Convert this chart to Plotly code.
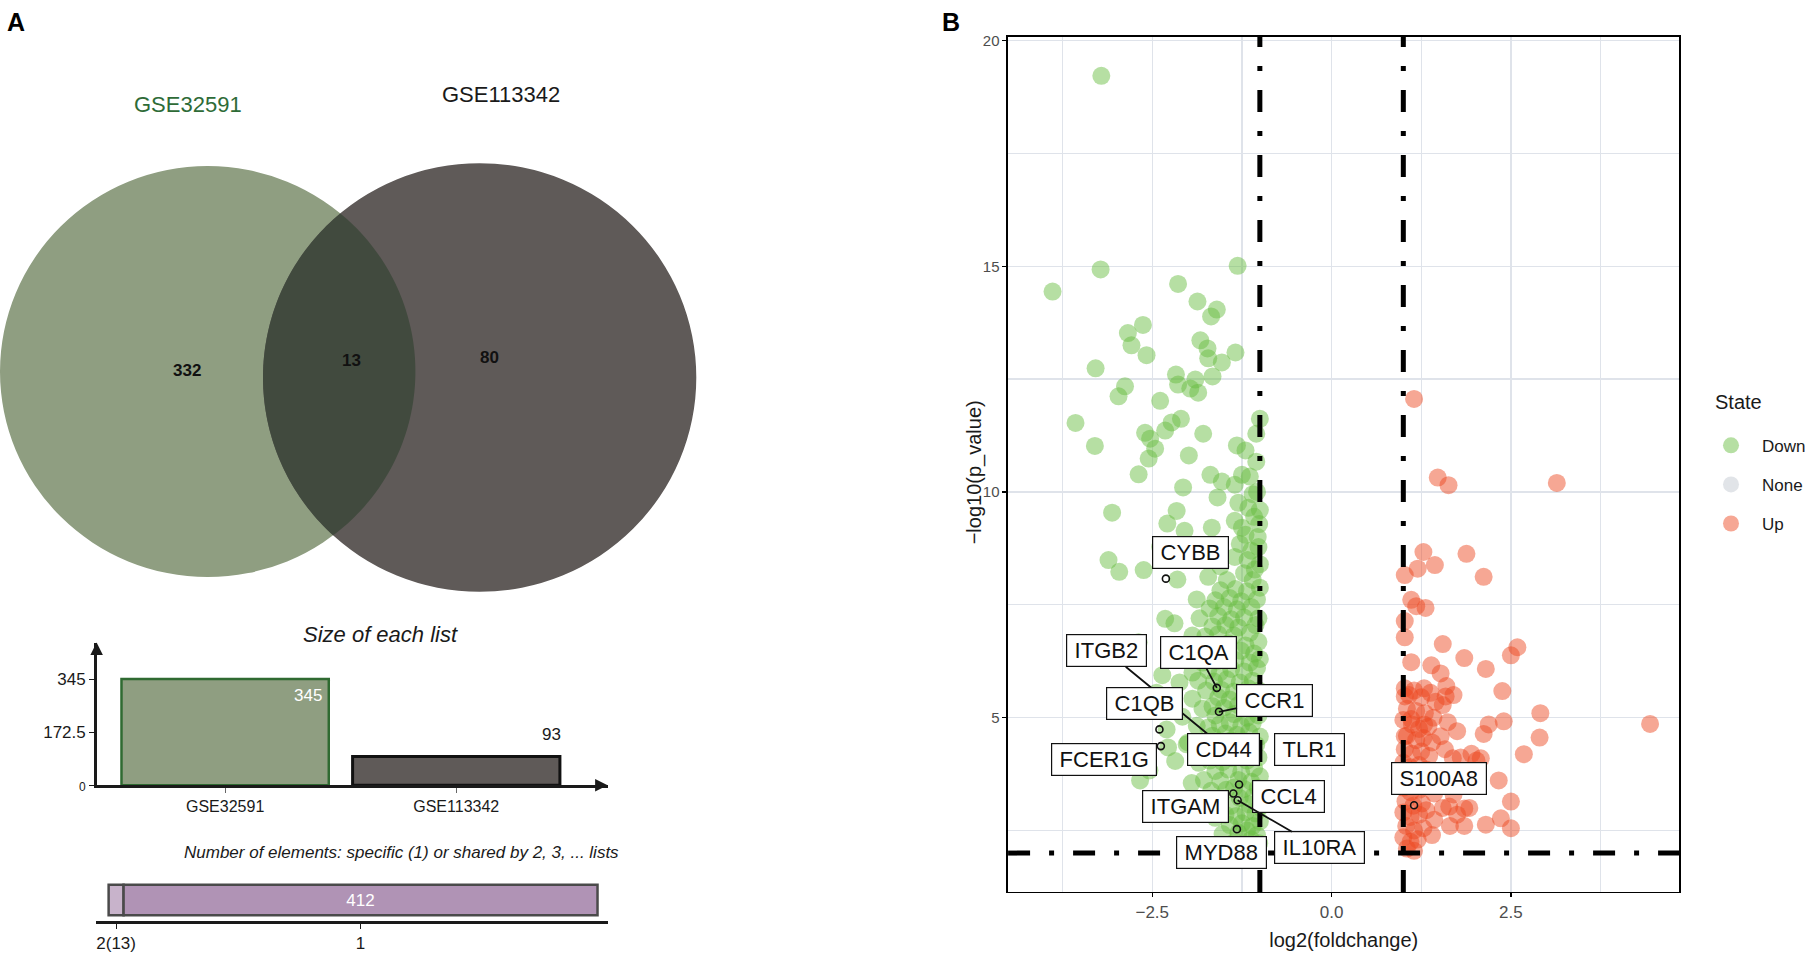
import numpy as np
import plotly.graph_objects as go

# ---------------- DATA ----------------
venn_sets = ["GSE32591", "GSE113342"]
venn_only = [332, 80]
venn_shared = 13
list_sizes = [345, 93]
size_ticks = [0, 172.5, 345]
share_labels = ["2(13)", "1"]
share_counts = [13, 412]
share_text = ["", "412"]

fc_cut = 1.0
p_cut = 2.0
vx_ticks = [-2.5, 0.0, 2.5]
vx_ticktext = ["\u22122.5", "0.0", "2.5"]
vy_ticks = [5, 10, 15, 20]

down_pts = [
    (-3.21, 19.22),
    (-3.22, 14.93), (-3.89, 14.44), (-1.31, 15.01), (-2.14, 14.61), (-1.87, 14.22), (-1.60, 14.04),
    (-1.68, 13.89), (-2.63, 13.70), (-2.84, 13.52), (-2.79, 13.25), (-2.58, 13.03), (-1.83, 13.36),
    (-1.73, 13.18), (-1.72, 12.96), (-1.53, 12.87), (-1.34, 13.09), (-3.29, 12.74), (-1.66, 12.56),
    (-2.17, 12.60), (-2.14, 12.38), (-1.90, 12.49), (-1.97, 12.29), (-1.86, 12.20), (-2.88, 12.34),
    (-2.97, 12.12), (-2.39, 12.02), (-3.57, 11.53), (-3.30, 11.02), (-2.60, 11.31), (-2.53, 11.18),
    (-2.46, 10.96), (-2.32, 11.36), (-2.23, 11.54), (-2.10, 11.62), (-1.79, 11.29), (-1.99, 10.81),
    (-2.55, 10.74), (-2.69, 10.39), (-2.07, 10.10), (-1.69, 10.38), (-1.53, 10.23), (-1.32, 11.03),
    (-1.20, 10.92), (-1.00, 11.62), (-1.05, 11.29), (-1.05, 10.67), (-1.25, 10.38), (-1.14, 10.34),
    (-1.35, 10.16), (-1.59, 9.88), (-1.30, 9.76), (-1.16, 9.65), (-1.35, 9.36), (-1.25, 9.21),
    (-1.01, 9.29), (-3.06, 9.54), (-2.16, 9.58), (-2.29, 9.30), (-2.05, 9.14), (-1.67, 9.21),
    (-3.11, 8.49), (-2.96, 8.23), (-2.62, 8.27), (-2.39, 8.78), (-1.35, 8.56), (-1.17, 8.49),
    (-1.07, 8.28), (-1.02, 8.78), (-1.72, 8.12), (-2.15, 8.06), (-1.46, 8.05),
    (-1.04, 10.00), (-1.10, 9.95), (-1.00, 9.60), (-1.08, 9.45), (-1.20, 9.05), (-1.03, 9.00),
    (-1.12, 8.70), (-1.28, 8.85), (-1.00, 8.40), (-1.22, 8.20), (-1.55, 8.35), (-1.10, 8.05),
    (-2.32, 7.19), (-2.19, 7.09), (-2.69, 6.67), (-2.78, 6.42), (-2.36, 5.94), (-2.30, 4.74),
    (-2.28, 4.34), (-2.67, 3.61), (-2.54, 3.83), (-2.02, 4.41), (-2.44, 5.55), (-2.18, 4.04),
    (-1.89, 3.14),
    (-1.22, 2.08), (-1.05, 2.12), (-1.35, 2.25), (-1.12, 2.30), (-1.01, 2.22),
    (-1.52, 2.42), (-1.30, 2.45), (-1.18, 2.50), (-1.04, 2.40), (-1.42, 2.62), (-1.25, 2.66),
    (-1.10, 2.60), (-1.00, 2.70),
    (-1.62, 2.78), (-1.48, 2.85), (-1.33, 2.82), (-1.20, 2.90), (-1.06, 2.88), (-1.74, 3.00),
    (-1.40, 3.05), (-1.15, 3.08), (-1.00, 3.02),
    (-1.86, 3.20), (-1.58, 3.18), (-1.28, 3.22), (-1.09, 3.25), (-1.68, 3.38), (-1.47, 3.40),
    (-1.36, 3.45), (-1.22, 3.42), (-1.03, 3.44),
    (-1.95, 3.55), (-1.78, 3.62), (-1.55, 3.60), (-1.30, 3.62), (-1.12, 3.58), (-1.00, 3.70),
    (-1.62, 3.82), (-1.44, 3.85), (-1.26, 3.80), (-1.08, 3.88),
    (-1.85, 4.00), (-1.70, 4.05), (-1.52, 4.02), (-1.38, 4.10), (-1.18, 4.05), (-1.02, 4.12),
    (-1.60, 4.25), (-1.30, 4.28), (-1.12, 4.22),
    (-2.00, 4.45), (-1.78, 4.38), (-1.55, 4.42), (-1.40, 4.50), (-1.22, 4.45), (-1.05, 4.40),
    (-1.66, 4.60), (-1.48, 4.65), (-1.32, 4.62), (-1.15, 4.68), (-1.00, 4.58),
    (-1.88, 4.82), (-1.72, 4.78), (-1.56, 4.85), (-1.42, 4.90), (-1.26, 4.82), (-1.10, 4.88),
    (-2.08, 5.02), (-1.62, 5.05), (-1.36, 5.08), (-1.18, 5.00), (-1.02, 5.05),
    (-1.80, 5.20), (-1.66, 5.25), (-1.50, 5.22), (-1.30, 5.28), (-1.12, 5.20), (-1.00, 5.30),
    (-1.94, 5.42), (-1.58, 5.45), (-1.42, 5.40), (-1.22, 5.48), (-1.06, 5.45),
    (-1.75, 5.60), (-1.54, 5.62), (-1.36, 5.58), (-1.16, 5.65), (-1.01, 5.60), (-2.12, 5.78),
    (-1.86, 5.82), (-1.64, 5.80), (-1.46, 5.85), (-1.28, 5.78), (-1.10, 5.82),
    (-1.94, 6.00), (-1.72, 6.05), (-1.56, 6.00), (-1.40, 6.08), (-1.22, 6.02), (-1.04, 6.10),
    (-1.80, 6.22), (-1.60, 6.25), (-1.34, 6.28), (-1.14, 6.22), (-1.00, 6.30),
    (-2.02, 6.42), (-1.84, 6.40), (-1.66, 6.45), (-1.50, 6.40), (-1.26, 6.48), (-1.08, 6.42),
    (-1.72, 6.62), (-1.44, 6.65), (-1.20, 6.60), (-1.02, 6.68),
    (-1.94, 6.82), (-1.76, 6.80), (-1.58, 6.85), (-1.36, 6.82), (-1.14, 6.88), (-1.66, 7.02),
    (-1.48, 7.05), (-1.30, 7.00), (-1.06, 7.05),
    (-1.84, 7.20), (-1.58, 7.25), (-1.40, 7.18), (-1.22, 7.22), (-1.02, 7.20), (-1.70, 7.42),
    (-1.50, 7.45), (-1.32, 7.40), (-1.12, 7.45),
    (-1.88, 7.62), (-1.62, 7.60), (-1.42, 7.65), (-1.26, 7.58), (-1.04, 7.62), (-1.55, 7.82),
    (-1.34, 7.85), (-1.18, 7.80), (-1.00, 7.88),
]
up_pts = [
    (1.15, 12.06), (1.48, 10.32), (1.63, 10.15), (3.14, 10.20), (1.28, 8.67), (1.20, 8.30),
    (1.44, 8.38), (1.02, 8.16), (1.88, 8.63), (2.12, 8.12), (1.11, 7.61), (1.18, 7.47),
    (1.31, 7.43), (1.02, 7.14), (1.02, 6.78), (1.11, 6.23), (1.55, 6.63), (1.85, 6.32),
    (2.15, 6.08), (2.50, 6.38), (2.59, 6.56), (1.39, 6.16), (1.52, 5.98), (2.38, 5.59),
    (1.59, 5.47), (1.29, 5.65), (1.02, 5.47), (1.55, 5.28), (2.91, 5.10), (2.40, 4.92),
    (2.19, 4.85), (2.12, 4.64), (2.90, 4.56), (4.44, 4.86), (2.68, 4.19), (1.80, 4.12),
    (1.69, 4.10), (2.08, 4.10), (1.52, 4.59), (1.29, 4.85), (1.11, 4.97), (1.02, 4.59),
    (2.33, 3.61), (2.50, 3.14), (1.85, 2.99), (1.64, 3.03), (2.15, 2.63), (2.36, 2.77),
    (2.50, 2.55), (1.43, 2.74), (1.43, 3.32),
    (1.02, 5.65), (1.08, 5.50), (1.15, 5.60), (1.25, 5.45), (1.38, 5.55), (1.45, 5.35),
    (1.05, 5.20), (1.18, 5.15), (1.30, 5.10), (1.42, 5.00), (1.00, 4.95), (1.12, 4.85),
    (1.22, 4.75), (1.35, 4.80), (1.05, 4.60), (1.18, 4.50), (1.28, 4.55), (1.40, 4.45),
    (1.02, 4.30), (1.12, 4.20), (1.25, 4.25), (1.36, 4.15), (1.00, 4.00), (1.10, 3.90),
    (1.22, 3.95), (1.32, 3.85), (1.05, 3.70), (1.16, 3.60), (1.28, 3.65), (1.00, 3.45),
    (1.10, 3.35), (1.22, 3.40), (1.03, 3.15), (1.14, 3.05), (1.26, 3.10), (1.00, 2.90),
    (1.10, 2.80), (1.22, 2.85), (1.32, 2.95), (1.04, 2.60), (1.15, 2.50), (1.28, 2.55),
    (1.00, 2.35), (1.10, 2.25), (1.20, 2.30), (1.05, 2.10), (1.15, 2.05), (1.60, 5.70),
    (1.70, 5.50), (1.62, 4.90), (1.75, 4.70), (1.58, 4.30), (1.50, 3.80), (1.60, 3.50),
    (1.70, 3.30), (1.55, 3.00), (1.75, 2.85), (1.92, 3.00), (1.95, 4.20), (2.02, 4.05),
    (1.40, 2.40), (1.65, 2.60), (1.85, 2.60),
]
down_x = [p[0] for p in down_pts]
down_y = [p[1] for p in down_pts]
up_x = [p[0] for p in up_pts]
up_y = [p[1] for p in up_pts]
none_x = [None]
none_y = [None]

gene_names = ["CYBB", "ITGB2", "C1QA", "C1QB", "CCR1", "TLR1", "CD44", "FCER1G",
              "ITGAM", "CCL4", "IL10RA", "MYD88", "S100A8"]
gene_x = [-2.31, -1.66, -1.60, -2.40, -1.57, -1.08, -1.50, -2.38, -1.37, -1.29, -1.31, -1.32, 1.15]
gene_y = [8.08, 4.55, 5.66, 4.74, 5.13, 4.20, 4.25, 4.37, 3.32, 3.52, 3.17, 2.53, 3.06]

# ---------------- LAYOUT CONSTANTS ----------------
W, H = 1811, 961
FONT = "Liberation Sans, Arial, sans-serif"
GREEN_V = "#8f9e81"
DARK_V = "#5f5a58"
LENS_V = "#414a3e"

label_pos = {
    "CYBB": (-1.97, 8.65, False), "ITGB2": (-3.14, 6.48, True), "C1QA": (-1.86, 6.44, True),
    "C1QB": (-2.61, 5.31, False), "CCR1": (-0.79, 5.39, True), "TLR1": (-0.31, 4.30, False),
    "CD44": (-1.50, 4.30, False), "FCER1G": (-3.17, 4.08, False), "ITGAM": (-2.03, 3.03, False),
    "CCL4": (-0.60, 3.25, False), "IL10RA": (-0.17, 2.12, True), "MYD88": (-1.54, 2.01, False),
    "S100A8": (1.50, 3.65, False),
}

fig = go.Figure()

c1, r1 = np.array([208.5, 372.0]), 208.5
c2, r2 = np.array([481.5, 378.0]), 217.5


def lens_path(ca, ra, cb, rb, n=80):
    d = np.hypot(*(cb - ca))
    e = (cb - ca) / d
    a = (ra ** 2 - rb ** 2 + d ** 2) / (2 * d)
    h = np.sqrt(ra ** 2 - a ** 2)
    perp = np.array([-e[1], e[0]])
    p = ca + a * e
    i1, i2 = p + h * perp, p - h * perp
    pts = []
    for c, r, s, t in [(ca, ra, i1, i2), (cb, rb, i2, i1)]:
        t0 = np.arctan2(*(s - c)[::-1])
        t1 = np.arctan2(*(t - c)[::-1])
        dl = (t1 - t0 + np.pi) % (2 * np.pi) - np.pi
        for u in np.linspace(0, 1, n):
            ang = t0 + dl * u
            pts.append((c[0] + r * np.cos(ang), c[1] + r * np.sin(ang)))
    return "M " + " L ".join(f"{x:.2f},{y:.2f}" for x, y in pts) + " Z"


shapes = [
    dict(type="circle", xref="x3", yref="y3", x0=c1[0] - r1, x1=c1[0] + r1, y0=c1[1] - r1,
         y1=c1[1] + r1, fillcolor=GREEN_V, line=dict(width=0), layer="below"),
    dict(type="circle", xref="x3", yref="y3", x0=c2[0] - r2, x1=c2[0] + r2, y0=c2[1] - r2,
         y1=c2[1] + r2, fillcolor=DARK_V, line=dict(width=0), layer="below"),
    dict(type="path", xref="x3", yref="y3", path=lens_path(c1, r1, c2, r2), fillcolor=LENS_V,
         line=dict(width=0), layer="below"),
]


def ptext(x, y, text, size, color="#1a1a1a", xanchor="center", **kw):
    return dict(xref="paper", yref="paper", x=x / W, y=1 - y / H, text=text, showarrow=False,
                xanchor=xanchor, yanchor="middle", font=dict(size=size, color=color), **kw)


annotations = [
    dict(xref="x3", yref="y3", x=188, y=371, text=f"<b>{venn_only[0]}</b>", showarrow=False,
         font=dict(size=17, color="#111")),
    dict(xref="x3", yref="y3", x=353, y=361, text=f"<b>{venn_shared}</b>", showarrow=False,
         font=dict(size=17, color="#111")),
    dict(xref="x3", yref="y3", x=491, y=358, text=f"<b>{venn_only[1]}</b>", showarrow=False,
         font=dict(size=17, color="#111")),
    dict(xref="x3", yref="y3", x=189, y=101, text=venn_sets[0], showarrow=False,
         font=dict(size=22, color="#2e6b37")),
    dict(xref="x3", yref="y3", x=503, y=91, text=venn_sets[1], showarrow=False,
         font=dict(size=22, color="#1a1a1a")),
]

fig.add_trace(go.Bar(
    x=venn_sets, y=list_sizes, width=0.897, xaxis="x2", yaxis="y2",
    marker=dict(color=[GREEN_V, DARK_V], line=dict(color=["#2f6a31", "#111111"], width=[2.5, 3])),
    showlegend=False, hoverinfo="skip"))
annotations += [
    dict(xref="x2", yref="y2", x=0 + 0.36, y=list_sizes[0], text=str(list_sizes[0]), showarrow=False,
         yanchor="top", yshift=-5, font=dict(size=17, color="white")),
    dict(xref="x2", yref="y2", x=1 + 0.41, y=list_sizes[1], text=str(list_sizes[1]), showarrow=False,
         yanchor="bottom", yshift=11, font=dict(size=17, color="#1a1a1a")),
    ptext(382, 639, "<i>Size of each list</i>", 22),
    dict(xref="x2 domain", yref="y2 domain", x=1, y=0, ax=-12, ay=0, axref="pixel", ayref="pixel",
         text="", showarrow=True, arrowhead=2, arrowsize=1, arrowwidth=2.5, arrowcolor="#1a1a1a"),
    dict(xref="x2 domain", yref="y2 domain", x=0, y=1, ax=0, ay=12, axref="pixel", ayref="pixel",
         text="", showarrow=True, arrowhead=2, arrowsize=1, arrowwidth=2.5, arrowcolor="#1a1a1a"),
]

share_base = list(np.concatenate([[0], np.cumsum(share_counts)[:-1]]))
share_mid = [b + c / 2 for b, c in zip(share_base, share_counts)]
fig.add_trace(go.Bar(
    x=share_counts, y=[0] * len(share_counts), base=share_base, orientation="h", width=1,
    xaxis="x4", yaxis="y4", text=share_text, textposition="inside", insidetextanchor="middle",
    textfont=dict(size=17, color="white"),
    marker=dict(color=["#c8b3cb", "#b093b5"], line=dict(color="#4a4a4a", width=2.5)),
    showlegend=False, hoverinfo="skip"))
annotations.append(ptext(403, 860, "<i>Number of elements: specific (1) or shared by 2, 3, ... lists</i>", 17))

fig.add_trace(go.Scatter(x=down_x, y=down_y, mode="markers", name="Down", legendgroup="d",
                         marker=dict(size=18, color="#67bd3f", opacity=0.48, line=dict(width=0)),
                         hoverinfo="skip"))
fig.add_trace(go.Scatter(x=none_x, y=none_y, mode="markers", name="None", legendgroup="n",
                         marker=dict(size=18, color="#c3cad2", opacity=0.5, line=dict(width=0)),
                         hoverinfo="skip"))
fig.add_trace(go.Scatter(x=up_x, y=up_y, mode="markers", name="Up", legendgroup="u",
                         marker=dict(size=18, color="#ed471f", opacity=0.48, line=dict(width=0)),
                         hoverinfo="skip"))
fig.add_trace(go.Scatter(x=gene_x, y=gene_y, mode="markers", showlegend=False, hoverinfo="skip",
                         marker=dict(symbol="circle-open", size=7, color="#111",
                                     line=dict(width=1.6, color="#111"))))

SP = "\u2009"
for g, gx, gy in zip(gene_names, gene_x, gene_y):
    lx, ly, seg = label_pos[g]
    base = dict(text=SP + g + SP, font=dict(size=22, color="#111"), bgcolor="white",
                bordercolor="#111", borderwidth=1.2, borderpad=3)
    if seg:
        annotations.append(dict(xref="x", yref="y", x=gx, y=gy, ax=lx, ay=ly, axref="x", ayref="y",
                                showarrow=True, arrowhead=0, arrowwidth=1.8, arrowcolor="#111",
                                **base))
    else:
        annotations.append(dict(xref="x", yref="y", x=lx, y=ly, showarrow=False, **base))

dash = "22px,19px,5px,19px"
for xv in (-fc_cut, fc_cut):
    shapes.append(dict(type="line", xref="x", yref="y domain", x0=xv, x1=xv, y0=0, y1=1,
                       line=dict(color="black", width=5, dash=dash), layer="above"))
shapes.append(dict(type="line", xref="x domain", yref="y", x0=0, x1=1, y0=p_cut, y1=p_cut,
                   line=dict(color="black", width=5, dash=dash), layer="above"))

annotations += [
    ptext(16, 17, "<b>A</b>", 25, color="black"),
    ptext(955, 17, "<b>B</b>", 25, color="black"),
    ptext(978, 474, "\u2212log10(p_value)", 20, textangle=-90),
    ptext(1720, 403, "State", 20, xanchor="left"),
]

GRID = "#dfe3ea"
fig.update_layout(
    width=W, height=H, autosize=False, margin=dict(l=0, r=0, t=0, b=0),
    paper_bgcolor="white", plot_bgcolor="white", font=dict(family=FONT, color="#1a1a1a"),
    barmode="overlay", shapes=shapes, annotations=annotations,
    xaxis=dict(domain=[1012 / W, 1686 / W], range=[-4.51, 4.85], anchor="y",
               tickvals=vx_ticks, ticktext=vx_ticktext, ticks="outside", ticklen=4, tickwidth=1.5,
               tickcolor="black", tickfont=dict(size=17, color="#4d4d4d"),
               showgrid=True, gridcolor=GRID, gridwidth=1.5, zeroline=False,
               minor=dict(dtick=1.25, tick0=0, showgrid=True, gridcolor=GRID, gridwidth=1.3),
               showline=True, linecolor="black", linewidth=1.6, mirror=True,
               title=dict(text="log2(foldchange)", font=dict(size=20, color="#1a1a1a"), standoff=12)),
    yaxis=dict(domain=[1 - 900 / H, 1 - 32 / H], range=[1.14, 20.09], anchor="x",
               tickvals=vy_ticks, ticks="outside", ticklen=4, tickwidth=1.5, tickcolor="black",
               tickfont=dict(size=15, color="#4d4d4d"),
               showgrid=True, gridcolor=GRID, gridwidth=1.5, zeroline=False,
               minor=dict(dtick=2.5, tick0=0, showgrid=True, gridcolor=GRID, gridwidth=1.3),
               showline=True, linecolor="black", linewidth=1.6, mirror=True),
    xaxis2=dict(domain=[97 / W, 610 / W], range=[-0.556, 1.655], anchor="y2", type="category",
                showline=True, linecolor="#1a1a1a", linewidth=2.5, ticks="outside", ticklen=5,
                tickcolor="#666", tickfont=dict(size=16, color="#1a1a1a"), showgrid=False,
                zeroline=False),
    yaxis2=dict(domain=[1 - 791.7 / H, 1 - 647 / H], range=[0, 463.5], anchor="x2",
                showline=True, linecolor="#1a1a1a", linewidth=2.5, ticks="outside", ticklen=5,
                tickcolor="#1a1a1a", tickvals=size_ticks,
                ticktext=[f'<span style="font-size:12px">{v:g}</span>' if v == 0 else f"{v:g}"
                          for v in size_ticks],
                tickfont=dict(size=17, color="#1a1a1a"), showgrid=False, zeroline=False),
    xaxis3=dict(domain=[0, 0.4], range=[0, 0.4 * W], anchor="y3", visible=False),
    yaxis3=dict(domain=[1 - 620 / H, 1], range=[620, 0], anchor="x3", visible=False),
    xaxis4=dict(domain=[96 / W, 610 / W], range=[-11.3, 433.8], anchor="y4",
                showline=True, linecolor="#1a1a1a", linewidth=2.5, ticks="outside", ticklen=5,
                tickcolor="#1a1a1a", tickvals=share_mid, ticktext=share_labels,
                tickfont=dict(size=17, color="#1a1a1a"), showgrid=False, zeroline=False),
    yaxis4=dict(domain=[1 - 930 / H, 1 - 885 / H], range=[-0.7, 0.75], anchor="x4", visible=False),
    legend=dict(x=1707 / W, y=1 - 429 / H, xanchor="left", yanchor="top", itemwidth=52,
                font=dict(size=17, color="#1a1a1a"), tracegroupgap=14, bgcolor="rgba(0,0,0,0)"),
)

css_fix = (
    "var de=document.documentElement.style, bs=document.body.style;"
    "de.margin='0';de.padding='0';de.overflow='hidden';de.height='961px';"
    "bs.margin='0';bs.padding='0';bs.overflow='hidden';bs.height='961px';"
)
fig.write_html("out.html", config={"displayModeBar": False, "staticPlot": True},
               post_script=css_fix)
